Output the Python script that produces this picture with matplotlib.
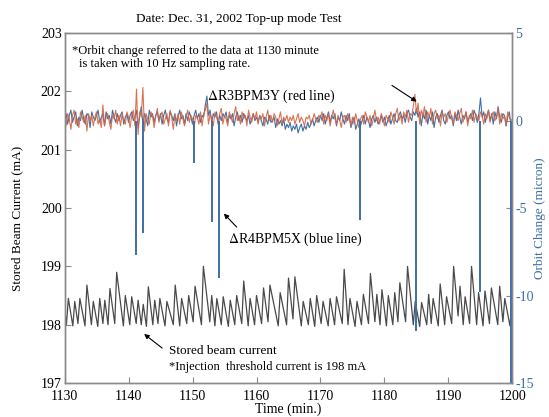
import numpy as np
import matplotlib
matplotlib.use("Agg")
import matplotlib.pyplot as plt

plt.rcParams['font.family'] = ['Liberation Serif', 'DejaVu Serif']
plt.rcParams['mathtext.fontset'] = 'stix'

# stored beam current: sawtooth vertices (troughs before each injection, peaks after)
peak_t = [1130.0, 1130.6, 1131.6, 1132.4, 1133.5, 1134.5, 1135.5, 1136.3, 1137.1, 1138.15,
          1139.5, 1140.5, 1141.5, 1142.3, 1143.1, 1144.1, 1144.9, 1146.0, 1147.3, 1148.3,
          1149.4, 1150.4, 1151.7, 1153.0, 1153.8, 1154.8, 1155.9, 1156.9, 1158.0, 1159.0,
          1160.0, 1161.1, 1162.1, 1163.7, 1165.0, 1166.0, 1167.3, 1168.4, 1169.4, 1170.4,
          1171.5, 1172.5, 1173.7, 1174.6, 1175.7, 1176.7, 1177.8, 1178.8, 1179.6, 1180.6,
          1181.6, 1182.4, 1183.6, 1184.8, 1185.8, 1186.9, 1187.6, 1188.7, 1189.7, 1190.8,
          1191.8, 1192.6, 1193.6, 1194.7, 1195.7, 1196.7, 1198.0, 1198.8, 1199.9]
peak_v = [198.30, 198.45, 198.40, 198.45, 198.68, 198.40, 198.45, 198.42, 198.62, 198.90,
          198.50, 198.48, 198.42, 198.35, 198.65, 198.42, 198.45, 198.40, 198.68, 198.45,
          198.50, 198.66, 199.00, 198.50, 198.45, 198.48, 198.42, 198.50, 198.75, 198.45,
          198.50, 198.63, 198.68, 198.55, 198.80, 198.82, 198.40, 198.45, 198.50, 198.40,
          198.45, 198.48, 198.95, 198.45, 198.40, 198.52, 198.88, 198.52, 198.60, 198.50,
          198.55, 198.72, 199.00, 198.40, 198.38, 198.52, 198.45, 198.70, 198.48, 199.00,
          198.66, 198.48, 199.00, 198.55, 198.58, 198.63, 198.66, 198.45, 198.35]
trough_t = [1130.3, 1131.3, 1132.1, 1133.2, 1134.2, 1135.2, 1136.0, 1136.8, 1137.85,
            1139.2, 1140.2, 1141.2, 1142.0, 1142.8, 1143.8, 1144.6, 1145.7, 1147.0, 1148.0,
            1149.1, 1150.1, 1151.4, 1152.7, 1153.5, 1154.5, 1155.6, 1156.6, 1157.7, 1158.7,
            1159.7, 1160.8, 1161.8, 1163.4, 1164.7, 1165.7, 1167.0, 1168.1, 1169.1, 1170.1,
            1171.2, 1172.2, 1173.4, 1174.3, 1175.4, 1176.4, 1177.5, 1178.5, 1179.3, 1180.3,
            1181.3, 1182.1, 1183.3, 1184.5, 1185.5, 1186.6, 1187.3, 1188.4, 1189.4, 1190.5,
            1191.5, 1192.3, 1193.3, 1194.4, 1195.4, 1196.4, 1197.7, 1198.5, 1199.6]
trough_v = [198.00, 197.98, 198.02, 197.98, 198.00, 197.97, 198.02, 198.00, 198.02,
            197.98, 198.00, 198.02, 198.00, 197.97, 198.00, 198.02, 197.98, 198.00, 197.98,
            198.02, 198.05, 198.00, 198.05, 197.98, 198.00, 197.97, 198.00, 198.02, 197.98,
            198.00, 198.02, 198.05, 197.98, 198.00, 198.10, 197.98, 198.00, 197.97, 198.02,
            197.98, 198.00, 198.02, 198.00, 197.97, 198.00, 198.02, 198.05, 198.00, 197.98,
            198.00, 198.05, 198.05, 198.00, 197.97, 198.00, 198.02, 197.98, 198.00, 198.02,
            198.15, 198.00, 198.02, 198.00, 197.98, 198.02, 198.00, 198.05, 197.98]

# orbit change, sampled every 0.25 min from 1130 to 1200
orbit_t = np.arange(1130.0, 1200.001, 0.25)
red_y = [0.2, -0.3, 0.4, 0.1, -0.5, 0.3, 0.6, -0.2, 0.1, -0.4, 0.5, 0.2, -0.1, 0.3, -0.6, 0.4, 0.0, 0.3, -0.3, 0.2,
         0.5, -0.2, 0.1, -0.4, 0.9, -0.3, 0.2, 0.4, -0.1, -0.5, 0.3, 0.1, 0.6, -0.2, 0.3, -0.3, 0.4, 0.0, -0.2, 0.5,
         0.2, -0.4, 0.3, 0.6, -0.3, 1.8, -0.8, 0.5, 0.2, 1.9, -0.6, 0.4, 0.1, -0.2, 0.5, 0.3, -0.4, 0.2, 0.7, -0.1,
         0.3, 0.5, -0.2, 0.1, 0.4, -0.3, 0.6, 0.2, -0.5, 0.3, 0.0, 0.4, -0.2, 0.5, 0.1, -0.3, 0.2, 0.6, -0.1, 0.3,
         0.1, -0.4, 0.3, 0.2, -0.2, 0.5, -0.3, 0.4, 0.6, 1.0, -0.2, 0.4, 0.1, -0.3, 0.5, 0.2, -0.1, 0.4, 0.7, -0.2,
         0.3, 0.1, -0.3, 0.5, 0.2, -0.1, 0.4, 0.8, 0.0, 0.3, -0.2, 0.5, 0.1, 0.3, -0.3, 0.6, 0.2, -0.1, 0.4, 0.1,
         0.5, -0.2, 0.3, 0.1, 0.4, -0.3, 0.2, 0.6, 0.0, 0.3, -0.1, 0.4, 0.2, -0.3, 0.1, 0.5, -0.2, 0.2, 0.0, 0.3,
         -0.1, 0.2, 0.0, 0.3, -0.2, 0.1, 0.4, -0.1, 0.2, 0.0, -0.3, 0.2, 0.1, 0.3, -0.2, 0.0, 0.4, 0.1, -0.1, 0.3,
         0.2, 0.5, -0.2, 0.3, 0.0, 0.4, -0.3, 0.2, 0.6, 0.1, -0.2, 0.3, 0.0, -0.4, 0.2, 0.3, -0.1, 0.4, 0.1, -0.3,
         0.2, -0.2, 0.4, 0.0, -0.4, 0.1, 0.3, -0.2, 0.5, 0.2, -0.1, 0.3, -0.3, 0.1, 0.6, 0.0, 0.2, -0.2, 0.4, 0.1,
         -0.3, 0.3, 0.1, -0.1, 0.5, 0.2, -0.2, 0.4, 0.7, 0.0, 0.3, -0.2, 0.5, 0.2, 0.6, -0.1, 0.4, 0.3, 0.8, 1.5,
         0.4, 1.0, -0.2, 0.6, 0.3, 0.8, -0.1, 0.5, 0.2, 0.7, -0.2, 0.4, 0.6, 0.1, 0.3, -0.3, 0.5, 0.2, 0.4, -0.1,
         0.3, 0.6, 0.1, -0.2, 0.5, 0.3, 0.0, 0.4, 0.7, -0.1, 0.2, 0.5, -0.3, 0.3, 0.1, 0.6, -0.1, 0.4, 0.2, 0.0,
         0.5, 0.3, -0.2, 0.4, 0.1, 0.6, -0.1, 0.3, 0.5, 0.0, 0.2, 0.7, -0.2, 0.4, 0.1, 0.3, -0.3, 0.5, 0.2, 0.0,
         0.1]
blue_y = [0.1, 0.4, -0.2, 0.3, 0.6, -0.1, 0.2, 0.5, -0.3, 0.2, 0.0, 0.6, 0.1, -0.2, 0.4, 0.3, -0.4, 0.5, 0.2, 0.0,
          0.3, 0.6, -0.1, 0.2, 0.4, -0.3, 0.5, 0.1, 0.3, -0.2, 0.6, 0.2, -0.1, 0.4, 0.0, 0.3, 0.5, -0.2, 0.2, 0.4,
          -0.1, 0.3, 0.5, 0.0, 0.2, 0.6, -0.4, 0.3, 0.8, -0.2, 0.4, 0.1, -0.3, 0.6, 0.2, 0.4, -0.1, 0.3, 0.5, 0.0,
          0.4, -0.2, 0.3, 0.6, 0.1, -0.1, 0.5, 0.3, 0.0, 0.4, -0.3, 0.2, 0.6, 0.1, 0.3, -0.2, 0.4, 0.0, 0.5, 0.2,
          -0.2, 0.3, 0.6, 0.1, 0.4, -0.1, 0.3, 0.2, 0.9, 1.4, 0.3, 0.6, -0.1, 0.4, 0.2, 0.5, -0.2, 0.3, 0.0, 0.4,
          0.2, 0.5, -0.1, 0.3, 0.1, 0.4, -0.3, 0.2, 0.5, 0.0, 0.3, -0.1, 0.4, 0.2, 0.0, 0.3, -0.2, 0.1, 0.4, 0.0,
          0.2, -0.1, 0.3, 0.0, -0.3, 0.2, 0.1, -0.2, 0.3, -0.1, 0.0, 0.2, -0.4, 0.1, -0.2, 0.0, -0.3, 0.1, -0.5, -0.2,
          -0.4, -0.1, -0.6, -0.3, -0.5, -0.2, -0.7, -0.4, -0.2, -0.6, -0.3, -0.5, -0.1, -0.4, -0.2, 0.1, -0.3, 0.0, 0.2, -0.1,
          0.3, 0.0, 0.4, -0.2, 0.2, 0.5, -0.1, 0.3, 0.1, 0.4, -0.3, 0.2, 0.0, 0.5, 0.1, -0.2, 0.3, 0.0, 0.4, -0.4,
          -0.1, 0.2, -0.5, -0.2, 0.1, -0.3, 0.0, 0.3, -0.2, 0.2, 0.0, -0.4, 0.1, 0.3, -0.1, 0.2, -0.2, 0.0, 0.3, -0.1,
          0.2, -0.3, 0.0, 0.3, -0.2, 0.1, 0.4, 0.0, -0.1, 0.3, 0.5, 0.1, 0.3, -0.1, 0.4, 0.6, 0.2, 0.0, 0.5, 0.3,
          0.7, 0.2, 0.5, -0.3, 0.4, 0.1, 0.6, -0.2, 0.3, 0.0, 0.5, -0.4, 0.2, 0.4, -0.1, 0.3, 0.6, 0.0, -0.2, 0.3,
          0.5, 0.1, 0.3, -0.3, 0.4, 0.0, 0.6, 0.2, -0.2, 0.3, 0.1, 0.5, -0.1, 0.2, 0.4, 0.0, 0.6, 0.3, -0.1, 0.4,
          1.3, 0.2, 0.5, -0.1, 0.3, 0.6, 0.0, 0.4, -0.2, 0.5, 0.1, 0.8, 0.2, -0.1, 0.4, 0.3, -0.3, 0.2, 0.5, -0.2,
          0.0]

# sharp negative excursions of the blue trace
spike_t = [1141.2, 1142.2, 1150.3, 1153.1, 1154.2, 1176.1, 1185.0, 1195.0, 1199.8]
spike_v = [-7.7, -6.4, -2.4, -5.8, -9.0, -5.7, -12.0, -9.8, -15.0]

x_ticks = [1130, 1140, 1150, 1160, 1170, 1180, 1190, 1200]
left_ticks = [197, 198, 199, 200, 201, 202, 203]
right_ticks = [-15, -10, -5, 0, 5]

gray = '#8a8a8a'
blue = '#3f6fa6'
red = '#d8643f'

fig = plt.figure(figsize=(5.49, 4.17), dpi=100)
ax = fig.add_axes([0.1175, 0.0815, 0.816, 0.839])
ax2 = ax.twinx()

cur_t = np.concatenate([peak_t, trough_t])
cur_v = np.concatenate([peak_v, trough_v])
order = np.argsort(cur_t)
ax.plot(cur_t[order], cur_v[order], color='#4a4a4a', lw=0.9)

ax2.plot(orbit_t, blue_y, color=blue, lw=0.8)
ax2.plot(orbit_t, red_y, color=red, lw=0.8, alpha=0.9)
ax2.vlines(spike_t, 0, spike_v, color=blue, lw=1.4)

ax.set_xlim(1130, 1200)
ax.set_ylim(197, 203)
ax2.set_ylim(-15, 5)
ax.set_xticks(x_ticks)
ax.set_yticks(left_ticks)
ax2.set_yticks(right_ticks)
ax2.set_yticklabels([str(v) for v in right_ticks])

for a in (ax, ax2):
    for s in a.spines.values():
        s.set_color(gray)
        s.set_linewidth(1.0)
ax.tick_params(direction='in', length=4, color=gray, labelsize=10, pad=2)
ax.tick_params(axis='x', pad=5)
ax2.tick_params(direction='in', length=4, color=gray, labelsize=10, labelcolor=blue, pad=2)

ax.set_xlabel('Time (min.)', fontsize=10)
ax.xaxis.set_label_coords(0.5, -0.057)
ax.set_ylabel('Stored Beam Current (mA)', fontsize=9.5)
ax.yaxis.set_label_coords(-0.093, 0.47)
ax2.set_ylabel('Orbit Change (micron)', fontsize=9.5, color=blue)
ax2.yaxis.set_label_coords(1.048, 0.47)

fig.text(0.435, 0.955, 'Date: Dec. 31, 2002 Top-up mode Test', ha='center', va='center', fontsize=9.5)

ax.text(1131.2, 202.7, '*Orbit change referred to the data at 1130 minute', fontsize=9, va='center')
ax.text(1132.2, 202.47, 'is taken with 10 Hz sampling rate.', fontsize=9, va='center')

ax2.text(1152.3, 1.4, r'$\Delta$R3BPM3Y (red line)', fontsize=10, va='center')
ax2.annotate('', xy=(1185.4, 1.0), xytext=(1180.8, 2.1),
             arrowprops=dict(arrowstyle='-|>', color='black', lw=0.8, mutation_scale=7))

ax2.text(1155.5, -6.8, r'$\Delta$R4BPM5X (blue line)', fontsize=10, va='center')
ax2.annotate('', xy=(1154.6, -5.2), xytext=(1157.2, -6.2),
             arrowprops=dict(arrowstyle='-|>', color='black', lw=0.8, mutation_scale=7))

ax.text(1146.4, 197.55, 'Stored beam current', fontsize=9.5, va='center')
ax.text(1146.4, 197.28, '*Injection  threshold current is 198 mA', fontsize=9, va='center')
ax.annotate('', xy=(1142.1, 197.87), xytext=(1145.6, 197.57),
            arrowprops=dict(arrowstyle='-|>', color='black', lw=0.8, mutation_scale=7))

fig.savefig('out.png', dpi=100)
